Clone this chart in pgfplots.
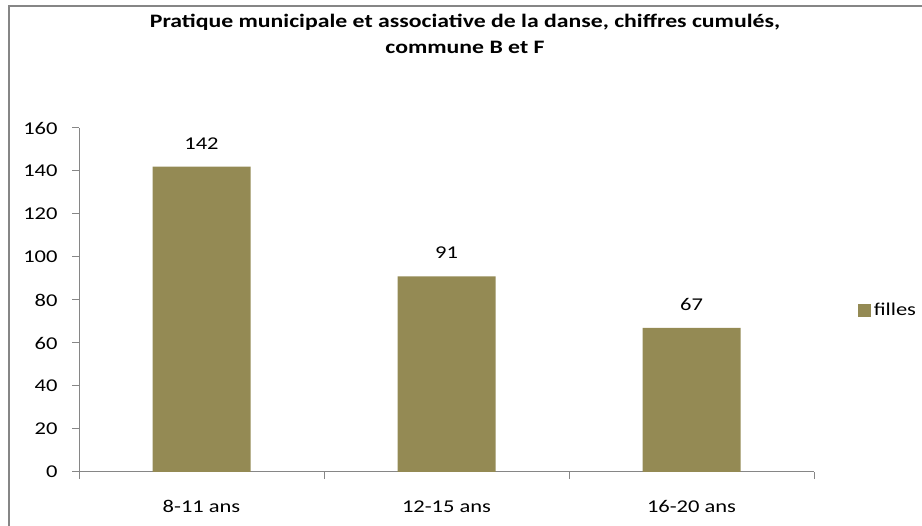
\documentclass[border=0pt]{standalone}
\usepackage{pgfplots}
\pgfplotsset{compat=1.18}
\usepackage{fontspec}
\setmainfont[FakeStretch=1.25]{Carlito}
\definecolor{barcol}{RGB}{148,138,84}
\definecolor{axcol}{RGB}{134,134,134}
\newcommand{\lbl}{\fontsize{18bp}{21bp}\selectfont}

\begin{document}
\begin{tikzpicture}[x=1bp,y=1bp]
\useasboundingbox (0,0) rectangle (922,526);
\draw[axcol, line width=1.5bp] (9,-20) -- (9,520) -- (940,520);
\node[font=\bfseries\fontsize{19bp}{22bp}\selectfont, anchor=base] at (465,498) {Pratique municipale et associative de la danse, chiffres cumulés,};
\node[font=\bfseries\fontsize{19bp}{22bp}\selectfont, anchor=base] at (465,472) {commune B et F};
\begin{axis}[
  at={(79bp,54bp)}, anchor=south west,
  scale only axis, width=735bp, height=344bp,
  ymin=0, ymax=160, ytick={0,20,...,160},
  xmin=-0.5, xmax=2.5,
  xtick={0,1,2}, xticklabels={8-11 ans,12-15 ans,16-20 ans},
  minor xtick={-0.5,0.5,1.5,2.5},
  major x tick style={draw=none},
  tick align=outside, major tick length=7bp, minor tick length=7bp,
  tick style={axcol, line width=1bp},
  axis x line*=bottom, axis y line*=left,
  axis line style={axcol, line width=1bp, -},
  ticklabel style={font=\lbl},
  /pgf/number format/assume math mode=true,
  yticklabel style={xshift=-11bp},
  xticklabel style={yshift=-18bp},
  ybar, bar width=0.4,
  nodes near coords,
  every node near coord/.append style={font=\lbl, yshift=14bp},
  legend style={draw=none, fill=none, at={(1.060,0.470)}, anchor=west, font=\lbl,
    inner sep=0pt, nodes={inner sep=2.5bp}},
  legend image code/.code={\fill[barcol] (0bp,-6.5bp) rectangle (13bp,6.5bp);},
]
\addplot[fill=barcol, draw=none] coordinates {(0,142) (1,91) (2,67)};
\legend{filles}
\end{axis}
\end{tikzpicture}
\end{document}
